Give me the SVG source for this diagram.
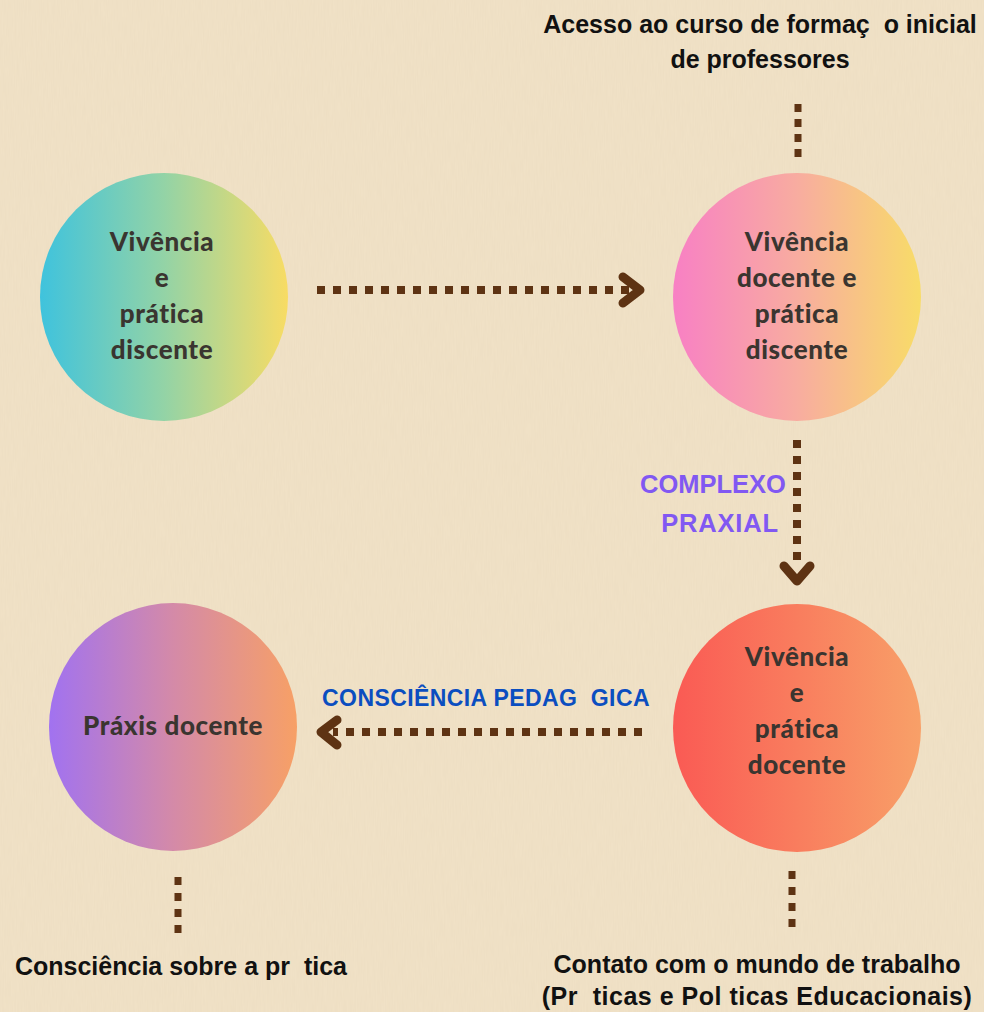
<svg xmlns="http://www.w3.org/2000/svg" width="984" height="1012" viewBox="0 0 984 1012">
<defs>
<linearGradient id="g1" x1="0" y1="0" x2="1" y2="0"><stop offset="0" stop-color="#3fc3dd"/><stop offset="0.5" stop-color="#93d3a6"/><stop offset="1" stop-color="#f8dc64"/></linearGradient>
<linearGradient id="g2" x1="0" y1="0" x2="1" y2="0"><stop offset="0" stop-color="#f880c4"/><stop offset="0.5" stop-color="#f8aca0"/><stop offset="1" stop-color="#f8dc68"/></linearGradient>
<linearGradient id="g3" x1="0" y1="0" x2="1" y2="0"><stop offset="0" stop-color="#a172f0"/><stop offset="0.5" stop-color="#d48aa8"/><stop offset="1" stop-color="#f7a066"/></linearGradient>
<linearGradient id="g4" x1="0" y1="0" x2="1" y2="0"><stop offset="0" stop-color="#fa5a54"/><stop offset="0.5" stop-color="#f97d5e"/><stop offset="1" stop-color="#f8a068"/></linearGradient>
<filter id="paper" x="0" y="0" width="100%" height="100%">
<feTurbulence type="fractalNoise" baseFrequency="0.9 0.05" numOctaves="2" seed="3"/>
<feColorMatrix type="matrix" values="0 0 0 0 0.55  0 0 0 0 0.45  0 0 0 0 0.3  0 0 0 0.09 0"/>
</filter>
<style>
.ct{font-family:Lato,"Noto Sans",sans-serif;font-weight:900;font-size:26px;letter-spacing:0.6px;fill:#3a3530;text-anchor:middle}
.hw{font-family:"Liberation Sans",Arial,sans-serif;font-weight:700;font-size:25px;fill:#111;text-anchor:middle;white-space:pre}
.dot{fill:none;stroke:#5e3313;stroke-width:8;stroke-dasharray:8 8}
.chev{fill:none;stroke:#5e3313;stroke-width:9;stroke-linecap:round;stroke-linejoin:round}
</style>
</defs>
<rect width="984" height="1012" fill="#f1e2c7"/>
<rect width="984" height="1012" filter="url(#paper)"/>

<g id="label-top">
<text class="hw" x="760" y="33">Acesso ao curso de formaç  o inicial</text>
<text class="hw" x="760" y="68">de professores</text>
</g>

<g id="node-vivencia-pratica-discente">
<circle cx="164" cy="297" r="124" fill="url(#g1)"/>
<text class="ct" x="162" y="251">Vivência</text>
<text class="ct" x="162" y="287">e</text>
<text class="ct" x="162" y="323">prática</text>
<text class="ct" x="162" y="359">discente</text>
</g>

<g id="node-vivencia-docente-pratica-discente">
<circle cx="797" cy="297" r="124" fill="url(#g2)"/>
<text class="ct" x="797" y="251">Vivência</text>
<text class="ct" x="797" y="287">docente e</text>
<text class="ct" x="797" y="323">prática</text>
<text class="ct" x="797" y="359">discente</text>
</g>

<g id="node-vivencia-pratica-docente">
<circle cx="797" cy="728" r="124" fill="url(#g4)"/>
<text class="ct" x="797" y="666">Vivência</text>
<text class="ct" x="797" y="702">e</text>
<text class="ct" x="797" y="738">prática</text>
<text class="ct" x="797" y="774">docente</text>
</g>

<g id="node-praxis-docente">
<circle cx="173" cy="727" r="124" fill="url(#g3)"/>
<text class="ct" x="173" y="735">Práxis docente</text>
</g>

<g id="connectors">
<line class="dot" x1="798" y1="104" x2="798" y2="160" style="stroke-width:7;stroke-dasharray:8 7"/>
<line class="dot" x1="317" y1="290" x2="630" y2="290"/>
<polyline class="chev" points="623,277 640,290 623,303"/>
<line class="dot" x1="797" y1="440" x2="797" y2="568"/>
<polyline class="chev" points="784,566 797,581 810,566"/>
<line class="dot" x1="642" y1="732" x2="333" y2="732"/>
<polyline class="chev" points="337,720 321,732 337,745"/>
<line class="dot" x1="178" y1="877" x2="178" y2="933" style="stroke-width:7;stroke-dasharray:8 8"/>
<line class="dot" x1="792" y1="871" x2="792" y2="927" style="stroke-width:7;stroke-dasharray:8 8"/>
</g>

<g id="label-complexo">
<text x="713" y="493" style="font-family:'Liberation Sans',Arial,sans-serif;font-weight:700;font-size:25.5px;fill:#8158f2;text-anchor:middle">COMPLEXO</text>
<text x="720" y="532" style="font-family:'Liberation Sans',Arial,sans-serif;font-weight:700;font-size:25.5px;letter-spacing:0.8px;fill:#8158f2;text-anchor:middle">PRAXIAL</text>
</g>

<g id="label-consciencia-pedagogica">
<text x="486" y="706" style="font-family:'Liberation Sans',Arial,sans-serif;font-weight:700;font-size:23px;letter-spacing:0.4px;fill:#0b4ec0;text-anchor:middle;white-space:pre">CONSCIÊNCIA PEDAG  GICA</text>
</g>

<g id="label-bottom-left">
<text class="hw" x="181" y="975">Consciência sobre a pr  tica</text>
</g>

<g id="label-bottom-right">
<text class="hw" x="757" y="973">Contato com o mundo de trabalho</text>
<text class="hw" x="757" y="1005" style="letter-spacing:0.5px">(Pr  ticas e Pol ticas Educacionais)</text>
</g>
</svg>
